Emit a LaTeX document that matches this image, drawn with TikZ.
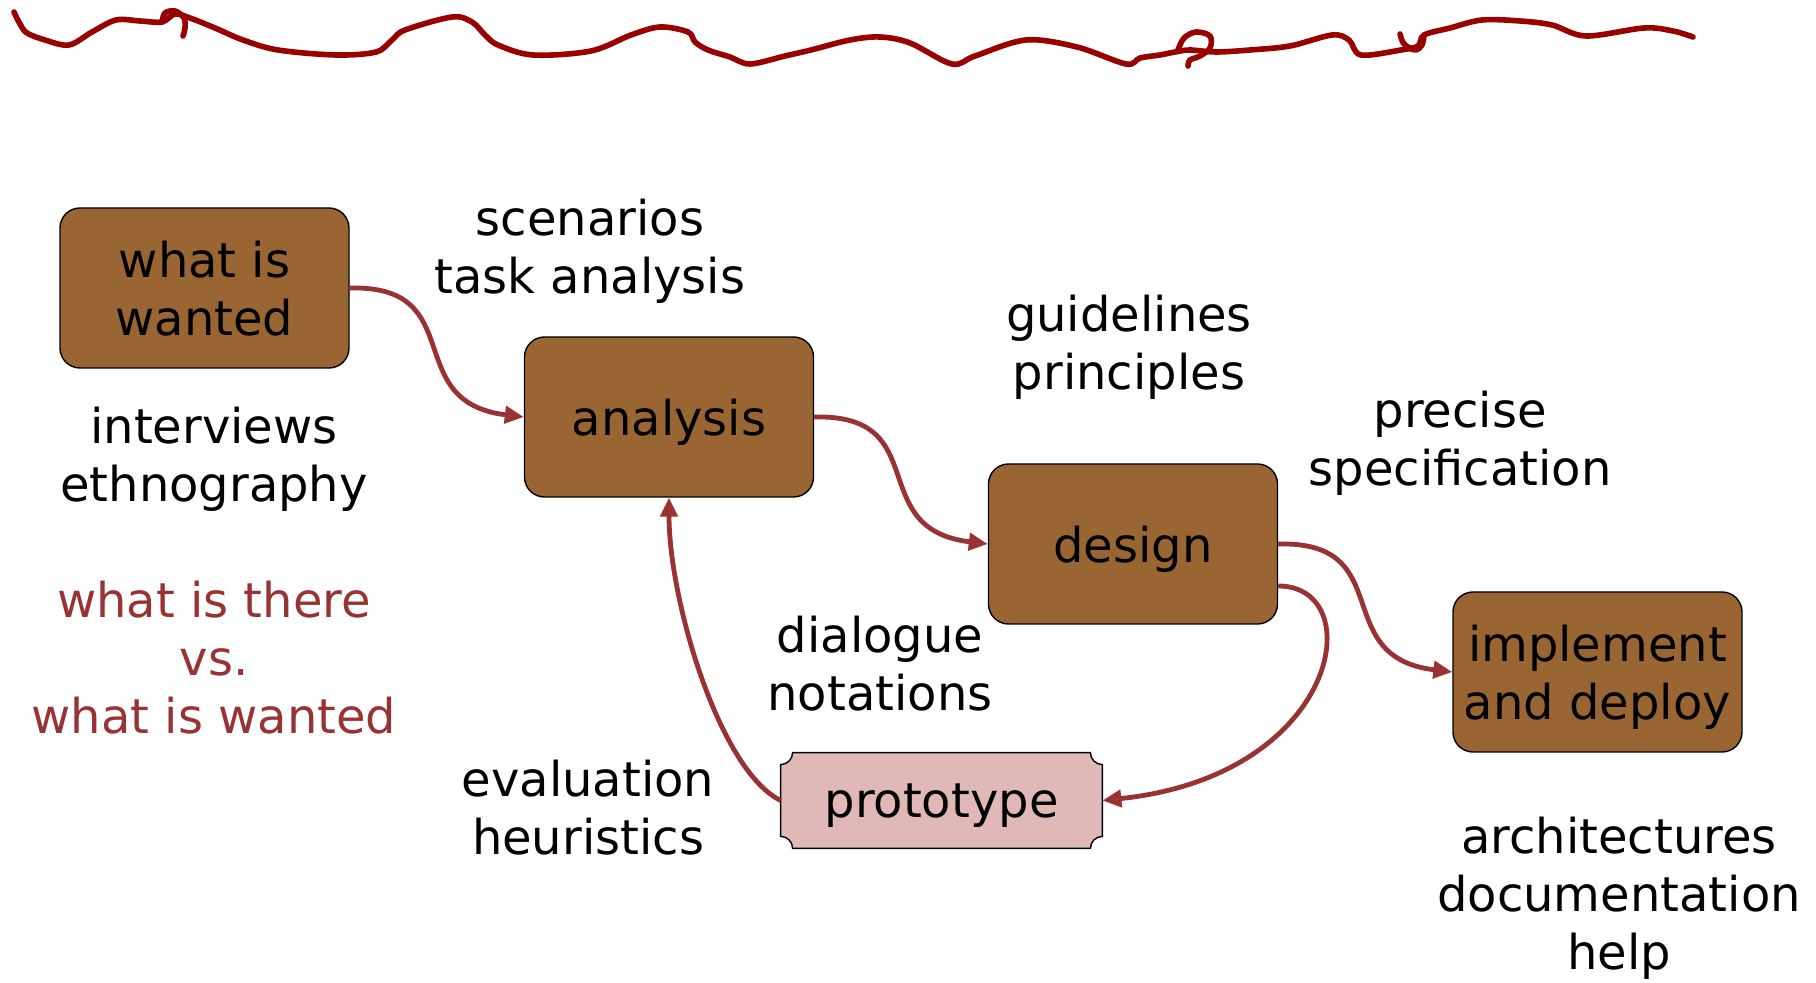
\documentclass[tikz,border=0pt]{standalone}
\usepackage{fontspec}
\setmainfont{DejaVu Sans}
\usetikzlibrary{arrows.meta,backgrounds}
\definecolor{boxbrown}{HTML}{996633}
\definecolor{protopink}{HTML}{E0B8B8}
\definecolor{arrred}{HTML}{993333}
\definecolor{squigred}{HTML}{990000}
\begin{document}
\begin{tikzpicture}[x=0.5pt,y=-0.5pt,
  every node/.style={font=\fontsize{24}{29}\selectfont, align=center, inner sep=0pt},
  stage/.style={draw=black, line width=0.7pt, fill=boxbrown, rounded corners=10pt, minimum width=144.5pt, minimum height=80pt, text depth=0pt},
  protobox/.style={minimum width=160.5pt, minimum height=47.5pt, text depth=0pt},
  protoshape/.style={draw=black, line width=0.7pt, fill=protopink},
  flow/.style={draw=arrred, line width=2.4pt, -{Triangle[length=9.5pt,width=8.5pt]}},
  note/.style={text=black},
  contrast/.style={text=arrred},
  squiggle/.style={draw=squigred, line width=2.8pt, line cap=round, line join=round}]
\useasboundingbox (0,0) rectangle (1816,983);

% top squiggle
\draw[squiggle] plot[smooth, tension=0.55] coordinates {(14,12) (20,24) (27,33) (45,40) (69,45) (92,32) (116,20) (140,21) (162,22) (175,14) (190,18) (215,28) (243,40) (278,50) (336,55) (376,52) (392,40) (405,30) (452,17) (472,22) (485,35) (498,45) (533,55) (591,51) (631,35) (660,27) (688,32) (695,42) (708,50) (730,57) (750,64) (785,56) (811,50) (850,40) (880,37) (910,43) (952,64) (975,56) (1026,40) (1077,47) (1126,64) (1140,58) (1160,55) (1175,52) (1190,50) (1216,52) (1250,50) (1290,46) (1332,35) (1349,40) (1361,55) (1401,50) (1418,46) (1424,35) (1450,28) (1482,20) (1520,21) (1552,25) (1586,36) (1644,28) (1673,31) (1693,37)};
\draw[squiggle] plot[smooth, tension=0.55] coordinates {(162,22) (165,13) (175,11) (184,18) (185,28) (183,36)};
\draw[squiggle] plot[smooth, tension=0.55] coordinates {(1178,50) (1184,38) (1196,32) (1210,36) (1210,48) (1200,56) (1190,60) (1188,66)};
\draw[squiggle] plot[smooth, tension=0.55] coordinates {(1400,34) (1404,44) (1415,50) (1422,45) (1424,35)};

% stages
\node[stage] (w) at (204.5,288) {what is\\wanted};
\node[stage] (a) at (669,417) {analysis};
\node[stage] (d) at (1133,544) {design};
\node[stage] (i) at (1597.5,672) {implement\\and deploy};
\node[protobox] (p) at (941.5,800.5) {prototype};
\begin{pgfonlayer}{background}
\draw[protoshape] ([yshift=-6pt]p.north west) arc[start angle=270,end angle=360,radius=6pt]
  -- ([xshift=-6pt]p.north east) arc[start angle=180,end angle=270,radius=6pt]
  -- ([yshift=6pt]p.south east) arc[start angle=90,end angle=180,radius=6pt]
  -- ([xshift=6pt]p.south west) arc[start angle=0,end angle=90,radius=6pt] -- cycle;
\end{pgfonlayer}

% annotations
\node[note] (t1) at (590,251) {scenarios\\task analysis};
\node[note] (t2) at (214,459) {interviews\\ethnography};
\node[contrast] (t3) at (214,658) {what is there\\vs.\\what is wanted};
\node[note] (t4) at (1129,347) {guidelines\\principles};
\node[note] (t5) at (1460,443) {precise\\specification};
\node[note] (t6) at (880,664) {dialogue\\notations};
\node[note] (t7) at (588,808) {evaluation\\heuristics};
\node[note] (t8) at (1619,898) {architectures\\documentation\\help};

% connectors
\draw[flow] (w.east) .. controls +(121,-3) and +(-125,-15) .. (a.west);
\draw[flow] (a.east) .. controls +(121,-3) and +(-125,-15) .. (d.west);
\draw[flow] (d.east) .. controls +(121,-3) and +(-125,-15) .. (i.west);
\draw[flow] ([yshift=-21pt]d.east) .. controls +(92,0) and +(238,-25) .. (p.east);
\draw[flow] (p.west) .. controls +(-61,-30) and +(0,103) .. (a.south);
\end{tikzpicture}
\end{document}
